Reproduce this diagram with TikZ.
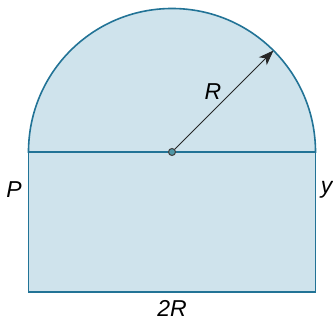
\documentclass[tikz,border=0pt]{standalone}
\usepackage{fontspec}
\setmainfont{Liberation Sans}
\usetikzlibrary{arrows.meta,positioning,calc}
\definecolor{sFill}{RGB}{207,227,236}
\definecolor{sEdge}{RGB}{34,115,150}
\definecolor{sDot}{RGB}{80,150,165}

\begin{document}
\begin{tikzpicture}[
			x=1pt,y=1pt,
			region/.style={fill=sFill,draw=sEdge,line width=1.6pt},
			lbl/.style={font=\fontsize{23}{25}\selectfont\itshape,inner sep=0pt}
			]
			\useasboundingbox (0,0) rectangle (333,321);
			\coordinate (o) at (172,169);
			\coordinate (tip) at ($(o)+(45:143.5)$);
			\path[region] (28.5,29) rectangle (315.5,169);
			\path[region] (28.5,169) arc[start angle=180,end angle=0,radius=143.5] -- cycle;
			\draw[black!85,line width=0.9pt,-{Stealth[length=15pt,width=11pt,inset=4pt]}] (o) -- (tip);
			\node[circle,draw=black!75,fill=sDot,line width=1pt,minimum size=7pt,inner sep=0pt](dot) at (o) {};
			\node[lbl](r) at (213,229) {R};
			\node[lbl](p) at (14,131) {P};
			\node[lbl](y) at (326.5,131) {y};
			\node[lbl](w) at (172,13) {2R};
		\end{tikzpicture}
\end{document}
